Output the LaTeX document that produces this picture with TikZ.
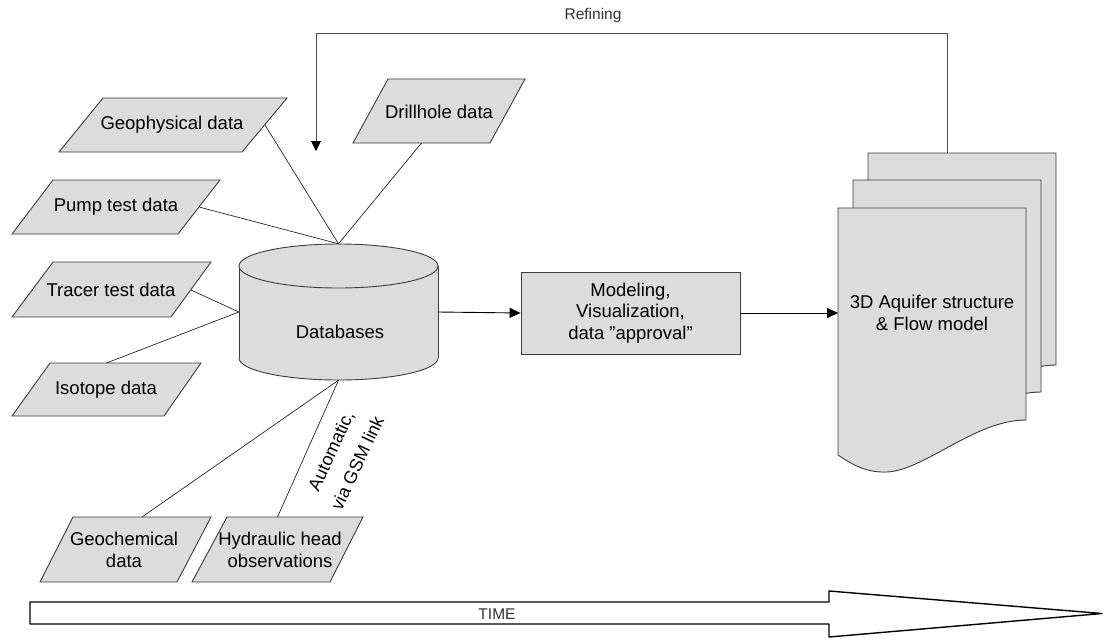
\documentclass[tikz,border=0pt]{standalone}
\usepackage{fontspec}
\setmainfont{Liberation Sans}
\usetikzlibrary{arrows.meta}
\definecolor{shapefill}{RGB}{220,220,220}
\definecolor{edgegray}{RGB}{60,60,60}
\tikzset{
  shapeline/.style={draw=edgegray, fill=shapefill, line width=0.9pt, line join=miter},
  lbl/.style={inner sep=0pt, align=center, font=\fontsize{18.5}{21.5}\selectfont},
  smalllbl/.style={inner sep=0pt, text=black!80, font=\fontsize{15.5}{18}\selectfont},
  conn/.style={draw=black!85, line width=0.7pt},
  arr/.style={draw=black, line width=0.9pt, -{Triangle[length=11pt,width=10pt]}},
  refline/.style={draw=black!70, line width=0.9pt, -{Triangle[length=10pt,width=10pt,fill=black,color=black]}},
}
\newcommand\docpage[1]{\draw[shapeline, shift={#1}] (0,0) -- (188,0) -- (188,212)
  .. controls (137,212) and (87,262) .. (49,264)
  .. controls (27,265) and (12,255) .. (0,247) -- cycle;}

\begin{document}
\begin{tikzpicture}[x=1pt,y=-1pt]
\useasboundingbox (0,0) rectangle (1107,640);

% ---------- data parallelograms ----------
\draw[shapeline] (103,98) -- (287,98) -- (242,152) -- (59,152) -- cycle;
\node[lbl] (geo) at (172,125) {Geophysical data};
\coordinate (geo-out) at (265,125);

\draw[shapeline] (53,180) -- (220,180) -- (178,234) -- (12,234) -- cycle;
\node[lbl] (pump) at (116,207) {Pump test data};
\coordinate (pump-out) at (199,207);

\draw[shapeline] (53,262) -- (211,262) -- (171,317) -- (12,317) -- cycle;
\node[lbl] (tracer) at (111,290) {Tracer test data};
\coordinate (tracer-out) at (191,290);

\draw[shapeline] (50,363) -- (201,363) -- (164,416) -- (12,416) -- cycle;
\node[lbl] (iso) at (106,390) {Isotope data};
\coordinate (iso-out) at (106.5,363);

\draw[shapeline] (73,517) -- (211,517) -- (177,582) -- (40,582) -- cycle;
\node[lbl] (geochem) at (124,550) {Geochemical\\data};
\coordinate (geochem-out) at (142,517);

\draw[shapeline] (227,517) -- (363,517) -- (330,582) -- (192,582) -- cycle;
\node[lbl] (hyd) at (280,550) {Hydraulic head\\observations};
\coordinate (hyd-out) at (277.5,517);

\draw[shapeline] (388,79) -- (525,79) -- (490,143) -- (353,143) -- cycle;
\node[lbl] (drill) at (439,112) {Drillhole data};
\coordinate (drill-out) at (421.5,143);

% ---------- database cylinder ----------
\fill[shapefill] (239,266) rectangle (438,358);
\fill[shapefill] (338.5,358) ellipse[x radius=99.5, y radius=22];
\begin{scope}
  \clip (200,358) rectangle (480,400);
  \draw[draw=edgegray, line width=0.9pt] (338.5,358) ellipse[x radius=99.5, y radius=22];
\end{scope}
\draw[draw=edgegray, line width=0.9pt] (239,266) -- (239,358) (438,266) -- (438,358);
\draw[shapeline] (338.5,266) ellipse[x radius=99.5, y radius=22];
\node[inner sep=0pt, minimum width=199pt, minimum height=136pt] (db) at (338.5,312) {};
\node[lbl] (dbtext) at (340,332) {Databases};

% ---------- modeling box ----------
\node[shapeline, lbl, minimum width=219pt, minimum height=82pt] (model) at (630.5,313)
  {Modeling,\\Visualization,\\data ”approval”};

% ---------- document stack ----------
\docpage{(868,153)}
\docpage{(853,180)}
\docpage{(838,208)}
\node[lbl] (doc) at (932,313) {3D Aquifer structure\\\& Flow model};
\coordinate (doc-in) at (838,313);

% ---------- connectors ----------
\draw[conn] (geo-out) -- (db.north);
\draw[conn] (pump-out) -- (db.north);
\draw[conn] (drill-out) -- (db.north);
\draw[conn] (tracer-out) -- (db.west);
\draw[conn] (iso-out) -- (db.west);
\draw[conn] (geochem-out) -- (db.south);
\draw[conn] (hyd-out) -- (db.south);
\node[lbl, rotate=65, font=\fontsize{18}{29}\selectfont] (gsm) at (344,457) {Automatic,\\via GSM link};

\draw[arr] (db.east) -- (model.west);
\draw[arr] (model.east) -- (doc-in);

% ---------- refining loop ----------
\coordinate (ref-start) at (947,153);
\coordinate (ref-corner) at (947,33);
\coordinate (ref-end) at (316,151);
\draw[refline] (ref-start) -- (ref-corner) -| (ref-end);
\node[smalllbl] (refining) at (593,15) {Refining};

% ---------- time arrow ----------
\draw[line width=1.4pt, fill=white, line join=round]
  (30,602) -- (829,602) -- (829,591) -- (1102,613.5) -- (829,637) -- (829,624) -- (30,624) -- cycle;
\node[smalllbl] (time) at (497,614) {TIME};
\end{tikzpicture}
\end{document}
